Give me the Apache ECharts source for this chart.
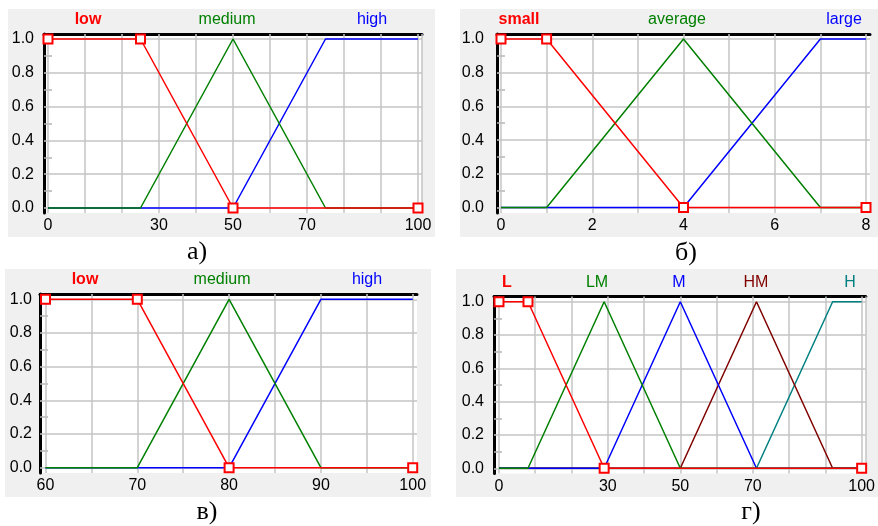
<!DOCTYPE html>
<html>
<head>
<meta charset="utf-8">
<script src="https://cdn.jsdelivr.net/npm/echarts@6/dist/echarts.min.js"></script>
<style>
  html, body { margin: 0; padding: 0; background: #ffffff; }
  #chart { width: 878px; height: 526px; }
</style>
</head>
<body>
<div id="chart"></div>
<script>
// ---- membership functions: breakpoints [x, degree] ----
// а) range 0..100
const lowA    = [[0, 1], [25, 1], [50, 0], [100, 0]];
const mediumA = [[0, 0], [25, 0], [50, 1], [75, 0], [100, 0]];
const highA   = [[0, 0], [50, 0], [75, 1], [100, 1]];
const ticksA  = [0, 30, 50, 70, 100];

// б) range 0..8
const smallB   = [[0, 1], [1, 1], [4, 0], [8, 0]];
const averageB = [[0, 0], [1, 0], [4, 1], [7, 0], [8, 0]];
const largeB   = [[0, 0], [4, 0], [7, 1], [8, 1]];
const ticksB   = [0, 2, 4, 6, 8];

// в) range 60..100
const lowV    = [[60, 1], [70, 1], [80, 0], [100, 0]];
const mediumV = [[60, 0], [70, 0], [80, 1], [90, 0], [100, 0]];
const highV   = [[60, 0], [80, 0], [90, 1], [100, 1]];
const ticksV  = [60, 70, 80, 90, 100];

// г) range 0..100, five terms
const termL  = [[0, 1], [8, 1], [29, 0], [100, 0]];
const termLM = [[0, 0], [8, 0], [29, 1], [50, 0], [100, 0]];
const termM  = [[0, 0], [29, 0], [50, 1], [71, 0], [100, 0]];
const termHM = [[0, 0], [50, 0], [71, 1], [92, 0], [100, 0]];
const termH  = [[0, 0], [71, 0], [92, 1], [100, 1]];
const ticksG = [0, 30, 50, 70, 100];

const degreeTicks = [0, 0.2, 0.4, 0.6, 0.8, 1.0];
const degreeMinor = [0.1, 0.3, 0.5, 0.7, 0.9];

const RED = '#ff0000', GREEN = '#008000', BLUE = '#0000ff', MAROON = '#800000', TEAL = '#008080';
const SANS = 'Liberation Sans';
const SERIF = 'Liberation Serif';

// Panel layout (pixels) and contents
const panels = [
  {
    caption: 'а)', capX: 197, capY: 252,
    bg: [8, 9, 427, 228],
    grid: { left: 44, top: 34, width: 378, height: 179 },
    padX: [4, 4], padY: [5, 5], yMargin: 10,
    range: [0, 100], gridStep: 10, ticks: ticksA,
    terms: [
      { name: 'low', data: lowA, color: RED, bold: true, lx: 88, ly: 20 },
      { name: 'medium', data: mediumA, color: GREEN, lx: 227, ly: 20 },
      { name: 'high', data: highA, color: BLUE, lx: 372, ly: 20 }
    ]
  },
  {
    caption: 'б)', capX: 686, capY: 253,
    bg: [460, 9, 418, 228],
    grid: { left: 497, top: 34, width: 373, height: 179 },
    padX: [4, 4], padY: [5, 5.5], yMargin: 13,
    range: [0, 8], gridStep: 1, ticks: ticksB,
    terms: [
      { name: 'small', data: smallB, color: RED, bold: true, lx: 519, ly: 20 },
      { name: 'average', data: averageB, color: GREEN, lx: 677, ly: 20 },
      { name: 'large', data: largeB, color: BLUE, lx: 844, ly: 20 }
    ]
  },
  {
    caption: 'в)', capX: 207, capY: 512,
    bg: [5, 269, 426, 228],
    grid: { left: 40, top: 294, width: 377, height: 179 },
    padX: [5.5, 4.3], padY: [5.3, 5.3], yMargin: 8,
    range: [60, 100], gridStep: 5, ticks: ticksV,
    terms: [
      { name: 'low', data: lowV, color: RED, bold: true, lx: 85, ly: 280 },
      { name: 'medium', data: mediumV, color: GREEN, lx: 222, ly: 280 },
      { name: 'high', data: highV, color: BLUE, lx: 367, ly: 280 }
    ]
  },
  {
    caption: 'г)', capX: 751, capY: 512,
    bg: [456, 269, 422, 228],
    grid: { left: 494, top: 296.5, width: 373.5, height: 177 },
    padX: [5, 4.2], padY: [5.2, 5.2], yMargin: 10,
    range: [0, 100], gridStep: 10, ticks: ticksG,
    terms: [
      { name: 'L', data: termL, color: RED, bold: true, lx: 507, ly: 283 },
      { name: 'LM', data: termLM, color: GREEN, lx: 597, ly: 283 },
      { name: 'M', data: termM, color: BLUE, lx: 679, ly: 283 },
      { name: 'HM', data: termHM, color: MAROON, lx: 756, ly: 283 },
      { name: 'H', data: termH, color: TEAL, lx: 850, ly: 283 }
    ]
  }
];

// widen an axis so the data sits a few pixels inside the frame
function padded(lo, hi, sizePx, padA, padB) {
  const u = (hi - lo) / (sizePx - padA - padB);
  return [lo - padA * u, hi + padB * u];
}

const grids = [], xAxes = [], yAxes = [], series = [], graphics = [];

panels.forEach((p, i) => {
  const [xMin, xMax] = padded(p.range[0], p.range[1], p.grid.width, p.padX[0], p.padX[1]);
  const [yMin, yMax] = padded(0, 1, p.grid.height, p.padY[1], p.padY[0]);

  graphics.push({
    type: 'rect', z: -10, silent: true,
    shape: { x: p.bg[0], y: p.bg[1], width: p.bg[2], height: p.bg[3] },
    style: { fill: '#f0f0f0' }
  });

  grids.push(Object.assign({ show: true, backgroundColor: '#ffffff', borderWidth: 0, containLabel: false }, p.grid));

  // bottom axis: labels only
  xAxes.push({
    type: 'value', gridIndex: i, min: xMin, max: xMax, position: 'bottom',
    axisLine: { show: false, onZero: false },
    axisTick: { show: false },
    splitLine: { show: false },
    axisLabel: {
      customValues: p.ticks, margin: 5, color: '#000',
      fontFamily: SANS, fontSize: 16
    }
  });
  // top frame line
  xAxes.push({
    type: 'value', gridIndex: i, min: xMin, max: xMax, position: 'top',
    axisLine: { show: true, onZero: false, lineStyle: { color: '#000', width: 3 } },
    axisTick: { show: false }, axisLabel: { show: false }, splitLine: { show: false }
  });

  yAxes.push({
    type: 'value', gridIndex: i, min: yMin, max: yMax,
    axisLine: { show: true, onZero: false, lineStyle: { color: '#000', width: 3 } },
    axisTick: { show: true, inside: true, length: 8, customValues: degreeMinor, lineStyle: { color: '#b4b4b4', width: 1.5 } },
    splitLine: { show: false },
    axisLabel: {
      customValues: degreeTicks, margin: p.yMargin, color: '#000',
      fontFamily: SANS, fontSize: 16,
      formatter: v => v.toFixed(1)
    }
  });

  // grid lines drawn underneath the curves
  const lines = [];
  for (let k = 0; p.range[0] + k * p.gridStep <= p.range[1] + 1e-9; k++) {
    lines.push({ xAxis: p.range[0] + k * p.gridStep });
  }
  lines.push({ xAxis: xMax });
  degreeTicks.forEach(v => lines.push({ yAxis: v }));
  series.push({
    type: 'line', xAxisIndex: 2 * i, yAxisIndex: i, data: [], z: 1, silent: true,
    markLine: {
      z: 1, silent: true, symbol: 'none', animation: false,
      label: { show: false },
      lineStyle: { color: '#c4c4c4', width: 1.5, type: 'solid' },
      emphasis: { disabled: true },
      data: lines
    }
  });

  // curves: the first term ends up on top
  p.terms.slice().reverse().forEach((t, j) => {
    const isFirst = t === p.terms[0];
    series.push({
      type: 'line', name: t.name, xAxisIndex: 2 * i, yAxisIndex: i,
      data: t.data, z: 2 + j, silent: true,
      showSymbol: isFirst, symbol: 'emptyRect', symbolSize: 9,
      itemStyle: { color: t.color, borderWidth: 1.5 },
      lineStyle: { color: t.color, width: 1.5 },
      emphasis: { disabled: true }
    });
    graphics.push({
      type: 'text', silent: true, z: 10,
      x: t.lx, y: t.ly,
      style: {
        text: t.name, fill: t.color, align: 'center', verticalAlign: 'middle',
        font: (t.bold ? 'bold ' : '') + '16px "' + SANS + '"'
      }
    });
  });

  graphics.push({
    type: 'text', silent: true, z: 10,
    x: p.capX, y: p.capY,
    style: {
      text: p.caption, fill: '#000', align: 'center', verticalAlign: 'middle',
      font: '26px "' + SERIF + '"'
    }
  });
});

const chart = echarts.init(document.getElementById('chart'), null, { renderer: 'canvas' });
chart.setOption({
  animation: false,
  backgroundColor: '#ffffff',
  grid: grids,
  xAxis: xAxes,
  yAxis: yAxes,
  series: series,
  graphic: graphics
});
</script>
</body>
</html>
